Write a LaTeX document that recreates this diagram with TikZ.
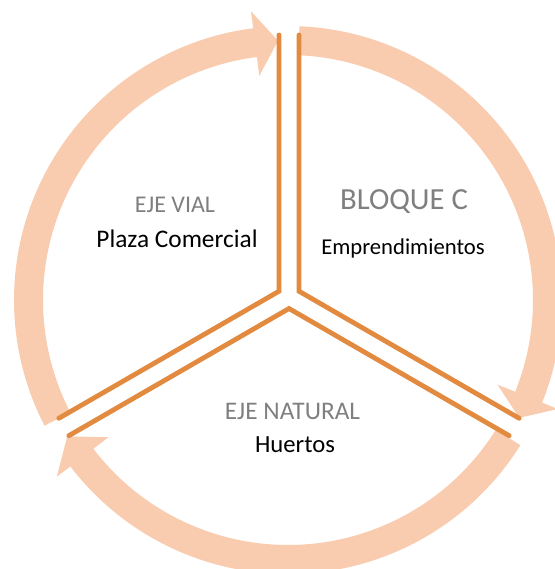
\documentclass[tikz,border=0pt]{standalone}
\usepackage{fontspec}
\setmainfont{Carlito}
\definecolor{ringfill}{HTML}{F9CBAF}
\definecolor{divline}{HTML}{E28A3F}
\definecolor{graytext}{HTML}{7F7F7F}
\tikzset{
  ringarrow/.style={fill=ringfill},
  divider/.style={draw=divline, line width=3.6, line cap=round, line join=miter},
  headtext/.style={text=graytext, anchor=base, inner sep=0pt},
  bodytext/.style={text=black, anchor=base, inner sep=0pt}
}
\newcommand{\ringarc}[3]{%
  \fill[ringarrow] (#1:274) arc[start angle=#1, end angle=#2, radius=274]
    -- (#2:291) -- (#3:259.5) -- (#2:226) -- (#2:245)
    arc[start angle=#2, end angle=#1, radius=245] -- cycle;}
\begin{document}
\begin{tikzpicture}[x=0.75pt,y=0.75pt]
\useasboundingbox (0,0) rectangle (555,569);
\begin{scope}[shift={(288,269)}]
  \ringarc{207.3}{97.3}{92.2}
  \ringarc{87.6}{-22}{-27}
  \ringarc{328}{217.4}{211.7}
\end{scope}
\begin{scope}[shift={(289,272)}]
  \coordinate (tl) at (-10,262);
  \coordinate (tr) at (10,262);
  \coordinate (ca) at (-10,5.77);
  \coordinate (cb) at (10,5.77);
  \coordinate (cc) at (0,-11.55);
  \coordinate (le) at (-230.2,-121.3);
  \coordinate (re) at (230.2,-121.3);
  \coordinate (lb) at (-220.2,-138.7);
  \coordinate (rb) at (220.2,-138.7);
  \draw[divider] (tl) -- (ca) -- (le);
  \draw[divider] (tr) -- (cb) -- (re);
  \draw[divider] (lb) -- (cc) -- (rb);
\end{scope}
\node[headtext, font=\fontsize{18}{20}\selectfont] (ev) at (175,356) {EJE VIAL};
\node[bodytext, font=\fontsize{19}{21}\selectfont] (pc) at (177,321) {Plaza Comercial};
\node[headtext, font=\fontsize{23}{25}\selectfont] (bc) at (404,359) {BLOQUE C};
\node[bodytext, font=\fontsize{17}{19}\selectfont] (em) at (403,314) {Emprendimientos};
\node[headtext, font=\fontsize{19}{21}\selectfont] (en) at (292.5,149) {EJE NATURAL};
\node[bodytext, font=\fontsize{18.5}{20}\selectfont] (hu) at (295,117) {Huertos};
\end{tikzpicture}
\end{document}
